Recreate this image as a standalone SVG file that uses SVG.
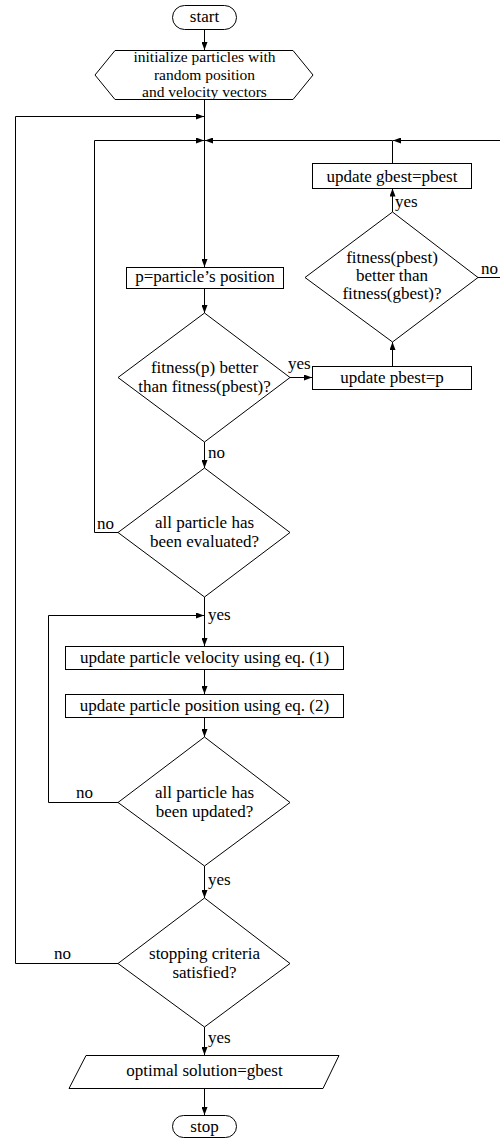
<svg xmlns="http://www.w3.org/2000/svg" width="500" height="1139" viewBox="0 0 500 1139">
<defs>
<marker id="arr" markerUnits="userSpaceOnUse" markerWidth="8" markerHeight="6" refX="8" refY="3" orient="auto">
<path d="M0,0 L8,3 L0,6 z" fill="#000"/>
</marker>
<style>
.s{fill:#fff;stroke:#000;stroke-width:1}
.c{fill:none;stroke:#000;stroke-width:1;marker-end:url(#arr)}
text{font-family:"Liberation Serif","Times New Roman",serif;font-size:17px;fill:#000}
.m{text-anchor:middle}
.h{font-size:15.5px}
</style>
</defs>
<rect width="500" height="1139" fill="#fff"/>
<g id="connectors">
<path class="c" d="M204.5,29.5 V50"/>
<path class="c" d="M204.5,99.5 V267"/>
<path class="c" d="M118,963.5 H15.5 V116.5 H204"/>
<path class="c" d="M118,532.5 H94.5 V140.5 H204"/>
<path class="c" d="M392.5,163.5 V140.5 H205"/>
<path class="c" d="M478,277.5 H502 V140.5 H393"/>
<path class="c" d="M204.5,288.5 V313"/>
<path class="c" d="M290,377.5 H312"/>
<path class="c" d="M392.5,366.5 V342"/>
<path class="c" d="M392.5,212 V188.5"/>
<path class="c" d="M204.5,442 V468"/>
<path class="c" d="M204.5,597 V646"/>
<path class="c" d="M118,802.5 H48.5 V615.5 H204"/>
<path class="c" d="M204.5,669.5 V694"/>
<path class="c" d="M204.5,717.5 V737"/>
<path class="c" d="M204.5,866 V898"/>
<path class="c" d="M204.5,1027 V1055"/>
<path class="c" d="M204.5,1088.5 V1115"/>
<text x="395" y="207">yes</text>
<text x="481" y="274">no</text>
<text x="288" y="369">yes</text>
<text x="208" y="458">no</text>
<text x="97" y="529">no</text>
<text x="208" y="620">yes</text>
<text x="76" y="798">no</text>
<text x="208" y="885">yes</text>
<text x="54" y="959">no</text>
<text x="208" y="1043">yes</text>
</g>
<g id="start">
<rect class="s" x="172.5" y="5.5" width="64" height="24" rx="12"/>
<text class="m" x="204.5" y="22">start</text>
</g>
<g id="init">
<polygon class="s" points="95,75 115,50.5 293,50.5 313,75 293,99.5 115,99.5"/>
<text class="m h" x="204.5" y="62">initialize particles with</text>
<text class="m h" x="204.5" y="79.5">random position</text>
<text class="m h" x="204.5" y="97">and velocity vectors</text>
</g>
<g id="gbest">
<rect class="s" x="312.5" y="163.5" width="159" height="25"/>
<text class="m" x="392" y="182">update gbest=pbest</text>
</g>
<g id="cmpg">
<polygon class="s" points="392.5,212 478,277.5 392.5,342 305,277.5"/>
<text class="m" x="392" y="263">fitness(pbest)</text>
<text class="m" x="392" y="281">better than</text>
<text class="m" x="392" y="299">fitness(gbest)?</text>
</g>
<g id="ppos">
<rect class="s" x="126.5" y="267.5" width="157" height="21"/>
<text class="m" x="205" y="282">p=particle’s position</text>
</g>
<g id="cmpp">
<polygon class="s" points="204.5,313 290,377.5 204.5,442 118,377.5"/>
<text class="m" x="204.5" y="373">fitness(p) better</text>
<text class="m" x="204.5" y="392">than fitness(pbest)?</text>
</g>
<g id="pbest">
<rect class="s" x="312.5" y="366.5" width="159" height="23"/>
<text class="m" x="392" y="383">update pbest=p</text>
</g>
<g id="evaluated">
<polygon class="s" points="204.5,468 290,532.5 204.5,597 118,532.5"/>
<text class="m" x="204.5" y="528">all particle has</text>
<text class="m" x="204.5" y="547">been evaluated?</text>
</g>
<g id="velocity">
<rect class="s" x="65.5" y="646.5" width="278" height="23"/>
<text class="m" x="204.5" y="663">update particle velocity using eq. (1)</text>
</g>
<g id="position">
<rect class="s" x="65.5" y="694.5" width="278" height="23"/>
<text class="m" x="204.5" y="711">update particle position using eq. (2)</text>
</g>
<g id="updated">
<polygon class="s" points="204.5,737 290,802.5 204.5,866 118,802.5"/>
<text class="m" x="204.5" y="798">all particle has</text>
<text class="m" x="204.5" y="817">been updated?</text>
</g>
<g id="stopping">
<polygon class="s" points="204.5,898 290,963.5 204.5,1027 118,963.5"/>
<text class="m" x="204.5" y="959">stopping criteria</text>
<text class="m" x="204.5" y="978">satisfied?</text>
</g>
<g id="output">
<polygon class="s" points="86,1055.5 339,1055.5 323,1088.5 69,1088.5"/>
<text class="m" x="204.5" y="1076">optimal solution=gbest</text>
</g>
<g id="stop">
<rect class="s" x="172.5" y="1115.5" width="64" height="22" rx="11"/>
<text class="m" x="204.5" y="1132">stop</text>
</g>
</svg>
